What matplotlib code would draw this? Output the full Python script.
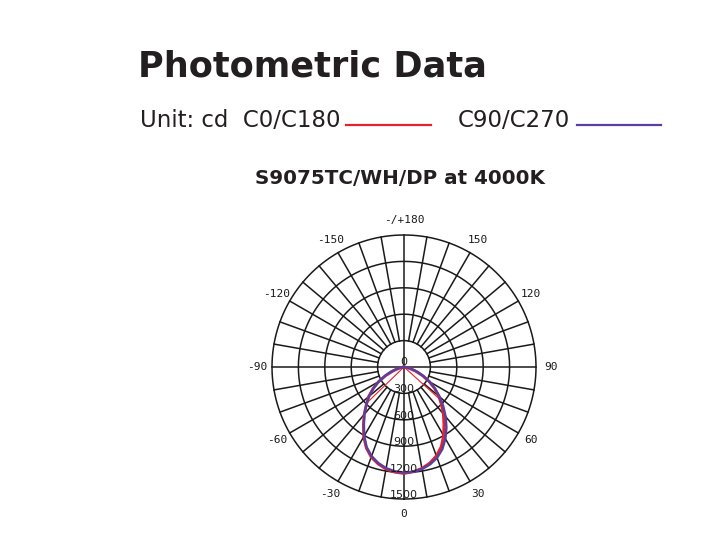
import numpy as np
import matplotlib.pyplot as plt

# angles (deg) measured from nadir, negative = left half
angles = [-90, -85, -80, -75, -70, -65, -60, -55, -50, -45, -40, -35, -30, -25, -20, -15, -10, -5,
          0, 5, 10, 15, 20, 25, 30, 35, 40, 45, 50, 55, 60, 65, 70, 75, 80, 85, 90]

# C0/C180 intensity (cd)
c0_c180 = [0, 5, 25, 65, 130, 225, 335, 430, 525, 605, 705, 805, 915, 1015, 1090, 1140, 1178, 1200,
           1210, 1195, 1170, 1130, 1075, 1000, 900, 790, 695, 600, 515, 425, 330, 230, 140, 70, 30, 8, 0]
# C90/C270 intensity (cd)
c90_c270 = [0, 10, 40, 90, 160, 240, 330, 425, 520, 605, 700, 795, 905, 1005, 1078, 1130, 1168, 1190,
            1200, 1195, 1178, 1145, 1098, 1030, 940, 840, 735, 630, 530, 430, 335, 245, 165, 95, 45, 12, 0]

# thin chords from the centre (angle, cd)
chord_angles = [-46, 48]
chord_values = [570, 590]

ring_values = [300, 600, 900, 1200, 1500]
ring_labels = ["300", "600", "900", "1200", "1500"]
angle_ticks = [180, 150, 120, 90, 60, 30, 0, -30, -60, -90, -120, -150]
angle_labels = ["-/+180", "150", "120", "90", "60", "30", "0", "-30", "-60", "-90", "-120", "-150"]

RED = "#e8212b"
PURPLE = "#5a3f9e"
GRID = "#1a1a1a"

fig = plt.figure(figsize=(7.23, 5.51), dpi=100)

# header
fig.text(138 / 723, 1 - 76 / 551, "Photometric Data", fontsize=25.3, fontweight="bold",
         color="#231f20", va="baseline", ha="left")
fig.text(140 / 723, 1 - 127 / 551, "Unit: cd  C0/C180", fontsize=16.5, color="#231f20",
         va="baseline", ha="left")
fig.text(458 / 723, 1 - 127 / 551, "C90/C270", fontsize=16.5, color="#231f20",
         va="baseline", ha="left")
fig.add_artist(plt.Line2D([346 / 723, 431 / 723], [1 - 125 / 551] * 2, color=RED, lw=1.6))
fig.add_artist(plt.Line2D([577 / 723, 661 / 723], [1 - 125 / 551] * 2, color=PURPLE, lw=1.6))
fig.text(400 / 723, 1 - 184 / 551, "S9075TC/WH/DP at 4000K", fontsize=14.3, fontweight="bold",
         color="#231f20", va="baseline", ha="center")

# polar diagram
cx, cy, R = 404, 367, 132
ax = fig.add_axes([(cx - R) / 723, (551 - cy - R) / 551, 2 * R / 723, 2 * R / 551],
                  projection="polar")
ax.set_theta_zero_location("S")
ax.set_theta_direction(1)
ax.set_rlim(0, 1500)
ax.axis("off")

rmax = ring_values[-1]
full = np.linspace(0, 2 * np.pi, 361)
for r in ring_values:
    ax.plot(full, np.full_like(full, r), color=GRID, lw=1.1, clip_on=False)
for a in range(0, 360, 10):
    r0 = 0 if a % 90 == 0 else ring_values[0]
    th = np.deg2rad(a)
    ax.plot([th, th], [r0, rmax], color=GRID, lw=1.1, clip_on=False)

# curves
th = np.deg2rad(angles)
ax.plot(th, c0_c180, color=RED, lw=2.0, clip_on=False, zorder=3)
ax.plot(th, c90_c270, color=PURPLE, lw=1.8, clip_on=False, zorder=4)
for a, v in zip(chord_angles, chord_values):
    ax.plot([np.deg2rad(a)] * 2, [0, v], color=RED, lw=0.8, clip_on=False, zorder=3)

# labels
ax.text(np.pi, 60, "0", ha="center", va="center", fontsize=8, color=GRID, zorder=5)
for r, lab in zip(ring_values, ring_labels):
    ax.text(0, r - 45, lab, ha="center", va="center", fontsize=8, color=GRID, zorder=5)
for a, lab in zip(angle_ticks, angle_labels):
    ax.text(np.deg2rad(a), 1670, lab, ha="center", va="center", fontsize=8,
            family="DejaVu Sans Mono", color=GRID)

fig.savefig("out.png", dpi=100)
